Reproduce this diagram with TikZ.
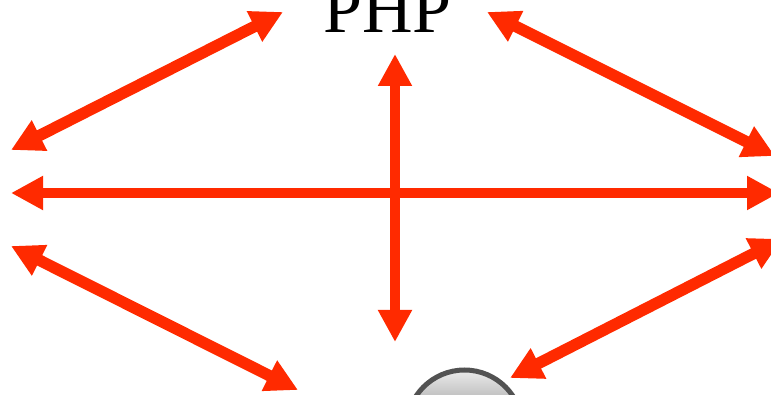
\documentclass[tikz,border=0pt]{standalone}
\usepackage{fontspec}
\setmainfont{Liberation Serif}
\usetikzlibrary{arrows.meta}
\definecolor{arrowred}{RGB}{255,42,0}
\tikzset{
  link/.style={line width=10.5pt,arrowred,{Triangle[length=32pt,width=32pt]}-{Triangle[length=32pt,width=32pt]}},
  slant/.style={link,line width=11.5pt},
  ball/.style={circle,draw=black!68,line width=5pt,minimum size=116pt,inner sep=0pt,top color=black!8,bottom color=black!80}
}
\begin{document}
\begin{tikzpicture}[x=1pt,y=-1pt]
\useasboundingbox (0,0) rectangle (771,395);
\clip (0,0) rectangle (771,395);
\node[anchor=base,inner sep=0pt,font=\fontsize{70}{70}\selectfont] (php) at (387.5,32.5) {PHP};
\node[ball] (globe) at (464.5,428) {};
\coordinate (topleft) at (283,12);
\coordinate (farleftup) at (11,150);
\coordinate (topright) at (487,12);
\coordinate (farrightup) at (775,156);
\coordinate (farleft) at (11,193);
\coordinate (farright) at (779,193);
\coordinate (upper) at (395,54);
\coordinate (lower) at (395,342);
\coordinate (farleftdown) at (11,246);
\coordinate (botleft) at (298,390);
\coordinate (botright) at (510,378);
\coordinate (farrightdown) at (782,239);
\draw[slant] (topleft) -- (farleftup);
\draw[slant] (topright) -- (farrightup);
\draw[link] (farleft) -- (farright);
\draw[link] (upper) -- (lower);
\draw[slant] (farleftdown) -- (botleft);
\draw[slant] (botright) -- (farrightdown);
\end{tikzpicture}
\end{document}
